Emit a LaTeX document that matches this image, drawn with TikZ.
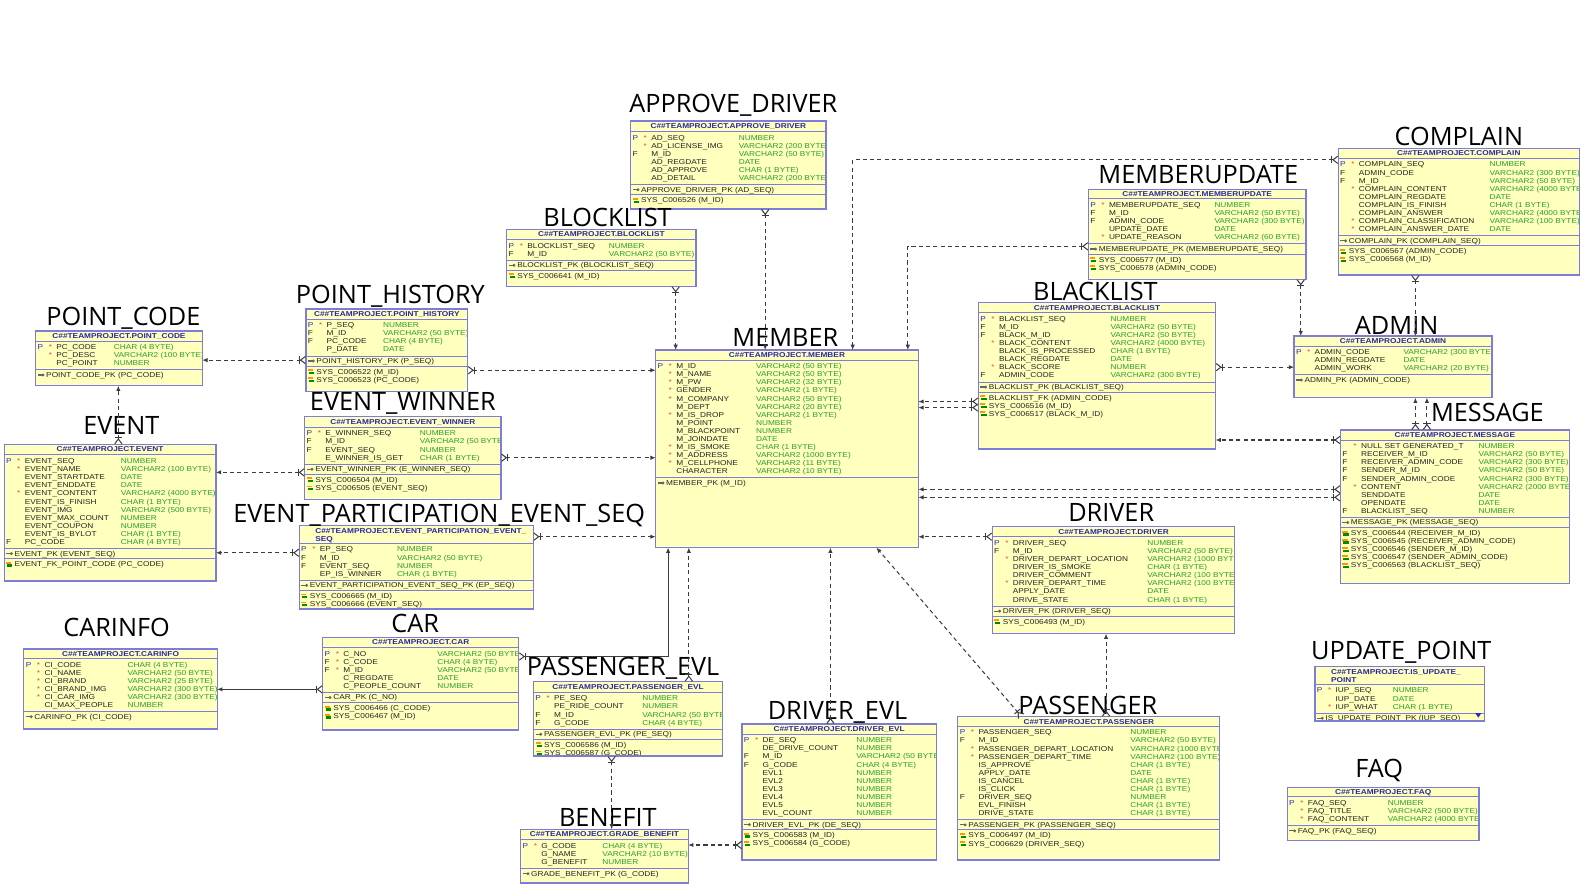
\documentclass[tikz,border=0pt]{standalone}
\usepackage{fontspec}
\usetikzlibrary{arrows.meta}
\newfontfamily\titlefont{Open Sans}
\newfontfamily\tabfont[FakeStretch=1.17]{Liberation Sans}
\definecolor{tblfill}{RGB}{255,255,190}
\definecolor{tblline}{RGB}{125,125,215}
\definecolor{hdrblue}{RGB}{40,40,170}
\definecolor{flagblue}{RGB}{40,40,200}
\definecolor{typegreen}{RGB}{40,160,40}
\definecolor{txtdark}{RGB}{35,35,35}
\definecolor{starred}{RGB}{230,70,60}
\definecolor{relgray}{RGB}{60,60,60}
\newcommand\Pf{\textcolor{flagblue}{P}}
\newcommand\Ff{\textcolor{txtdark}{F}}
\tikzset{
  tbl/.style={draw=tblline, fill=tblfill, line width=0.6pt, inner sep=0pt, outer sep=0pt, rectangle},
  ttl/.style={font=\titlefont\fontsize{12.5}{14}\selectfont, anchor=base, inner sep=0pt},
  cell/.style={font=\tabfont\fontsize{3.5}{4.1}\selectfont, anchor=base west, inner sep=0pt},
  hdr/.style={font=\tabfont\bfseries\fontsize{3.5}{4.1}\selectfont, text=hdrblue, inner sep=0pt},
  sepl/.style={draw=tblline, line width=0.5pt},
  rel/.style={draw=relgray, line width=0.5pt, dash pattern=on 2pt off 1.6pt,
    {Straight Barb[reversed,length=2.4pt,width=3.6pt] Bar[width=3.6pt]}-{Latex[length=2.6pt,width=2.2pt]}},
  relsolid/.style={rel, solid},
}
\newcommand\pkicon[2]{%
  \fill[black!60] ({#1},{#2-0.6}) rectangle ({#1+4.5},{#2+0.6});
  \fill[black!60] ({#1+5.2},{#2}) circle[radius=1.6];}
\newcommand\fkicon[2]{%
  \fill[orange!80!yellow] ({#1},{#2-2.4}) rectangle ({#1+5},{#2-0.6});
  \fill[green!55!black] ({#1+1},{#2+0.2}) rectangle ({#1+6},{#2+2.4});}
\newcommand\tblbox[5]{%
  \node[tbl, anchor=north west, minimum width={(#4-#2)*0.5pt}, minimum height={(#5-#3)*0.5pt}] (#1) at (#2,#3) {};
  \gdef\tN{#1}\gdef\tL{#2}\gdef\tT{#3}\gdef\tR{#4}\gdef\tB{#5}}
% #1 header height, #2 type offset, #3 header, #4 ncols, #5 cols, #6 pk, #7 fks
\newcommand\tblbody[7]{%
  \begin{scope}
    \clip (\tL,\tT) rectangle (\tR,\tB);
    \pgfmathsetmacro\sA{\tT+#1}
    \pgfmathsetmacro\sB{\sA+8*#4+4.5}
    \pgfmathsetmacro\sC{\sB+10}
    \ifdim #1pt>12pt
      \node[hdr, anchor=north west, align=left] at ({\tL+15.5},{\tT+2.2}) {#3};
    \else
      \node[hdr, anchor=base] at ({(\tL+\tR)/2},{\tT+7.3}) {#3};
    \fi
    \draw[sepl] (\tL,\sA) -- (\tR,\sA);
    \foreach \fl/\st/\nm/\ty [count=\i from 0] in {#5} {
      \pgfmathsetmacro\yy{\sA+8.5+8*\i}
      \node[cell] at ({\tL+1.5},\yy) {\fl};
      \node[cell, text=starred] at ({\tL+12.5},\yy) {\st};
      \node[cell, text=txtdark] at ({\tL+20},\yy) {\nm};
      \node[cell, text=typegreen] at ({\tL+#2},\yy) {\ty};
    }
    \draw[sepl] (\tL,\sB) -- (\tR,\sB);
    \pkicon{\tL+2}{\sB+5}
    \node[cell, text=txtdark] at ({\tL+10},{\sB+7.4}) {#6};
    \if\relax\detokenize{#7}\relax\else
      \draw[sepl] (\tL,\sC) -- (\tR,\sC);
      \foreach \fk [count=\j from 0] in {#7} {
        \fkicon{\tL+2}{\sC+5.5+8*\j}
        \node[cell, text=txtdark] at ({\tL+10},{\sC+7.9+8*\j}) {\fk};
      }
    \fi
  \end{scope}
  \draw[draw=tblline, line width=0.6pt] (\tN.north west) rectangle (\tN.south east);}
\begin{document}
\begin{tikzpicture}[x=0.5pt,y=-0.5pt]
\fill[white] (0,0) rectangle (1568,878);
\useasboundingbox (0,0) rectangle (1568,878);

% ---------- tables ----------
\tblbox{approve}{623.5}{119.6}{816.6}{206.6}
\tblbody{10.5}{106.5}{C\#\#TEAMPROJECT.APPROVE\_DRIVER}{6}{\Pf/*/AD\_SEQ/NUMBER, /*/AD\_LICENSE\_IMG/VARCHAR2 (200 BYTE), \Ff//M\_ID/VARCHAR2 (50 BYTE), //AD\_REGDATE/DATE, //AD\_APPROVE/CHAR (1 BYTE), //AD\_DETAIL/VARCHAR2 (200 BYTE)}{APPROVE\_DRIVER\_PK (AD\_SEQ)}{SYS\_C006526 (M\_ID)}

\tblbox{blocklist}{501}{226.7}{688}{283}
\tblbody{10}{100.5}{C\#\#TEAMPROJECT.BLOCKLIST}{2}{\Pf/*/BLOCKLIST\_SEQ/NUMBER, \Ff//M\_ID/VARCHAR2 (50 BYTE)}{BLOCKLIST\_PK (BLOCKLIST\_SEQ)}{SYS\_C006641 (M\_ID)}

\tblbox{pointcode}{35.3}{327.2}{200}{381.3}
\tblbody{10}{76.8}{C\#\#TEAMPROJECT.POINT\_CODE}{3}{\Pf/*/PC\_CODE/CHAR (4 BYTE), /*/PC\_DESC/VARCHAR2 (100 BYTE), //PC\_POINT/NUMBER}{POINT\_CODE\_PK (PC\_CODE)}{}

\tblbox{pointhistory}{302.5}{305.5}{462.4}{387.3}
\tblbody{10}{75.8}{C\#\#TEAMPROJECT.POINT\_HISTORY}{4}{\Pf/*/P\_SEQ/NUMBER, \Ff//M\_ID/VARCHAR2 (50 BYTE), \Ff//PC\_CODE/CHAR (4 BYTE), //P\_DATE/DATE}{POINT\_HISTORY\_PK (P\_SEQ)}{SYS\_C006522 (M\_ID), SYS\_C006523 (PC\_CODE)}

\tblbox{member}{648.2}{346}{907.9}{541.4}
\tblbody{10}{98.9}{C\#\#TEAMPROJECT.MEMBER}{14}{\Pf/*/M\_ID/VARCHAR2 (50 BYTE), /*/M\_NAME/VARCHAR2 (50 BYTE), /*/M\_PW/VARCHAR2 (32 BYTE), /*/GENDER/VARCHAR2 (1 BYTE), /*/M\_COMPANY/VARCHAR2 (50 BYTE), //M\_DEPT/VARCHAR2 (20 BYTE), /*/M\_IS\_DROP/VARCHAR2 (1 BYTE), //M\_POINT/NUMBER, //M\_BLACKPOINT/NUMBER, //M\_JOINDATE/DATE, /*/M\_IS\_SMOKE/CHAR (1 BYTE), /*/M\_ADDRESS/VARCHAR2 (1000 BYTE), /*/M\_CELLPHONE/VARCHAR2 (11 BYTE), //CHARACTER/VARCHAR2 (10 BYTE)}{MEMBER\_PK (M\_ID)}{}

\tblbox{memberupdate}{1076}{187.2}{1291.2}{276}
\tblbody{9.5}{124.3}{C\#\#TEAMPROJECT.MEMBERUPDATE}{5}{\Pf/*/MEMBERUPDATE\_SEQ/NUMBER, \Ff//M\_ID/VARCHAR2 (50 BYTE), \Ff//ADMIN\_CODE/VARCHAR2 (300 BYTE), //UPDATE\_DATE/DATE, /*/UPDATE\_REASON/VARCHAR2 (60 BYTE)}{MEMBERUPDATE\_PK (MEMBERUPDATE\_SEQ)}{SYS\_C006577 (M\_ID), SYS\_C006578 (ADMIN\_CODE)}

\tblbox{complain}{1323.1}{146.6}{1561.4}{271.9}
\tblbody{10}{149.3}{C\#\#TEAMPROJECT.COMPLAIN}{9}{\Pf/*/COMPLAIN\_SEQ/NUMBER, \Ff//ADMIN\_CODE/VARCHAR2 (300 BYTE), \Ff//M\_ID/VARCHAR2 (50 BYTE), /*/COMPLAIN\_CONTENT/VARCHAR2 (4000 BYTE), //COMPLAIN\_REGDATE/DATE, //COMPLAIN\_IS\_FINISH/CHAR (1 BYTE), //COMPLAIN\_ANSWER/VARCHAR2 (4000 BYTE), /*/COMPLAIN\_CLASSIFICATION/VARCHAR2 (100 BYTE), /*/COMPLAIN\_ANSWER\_DATE/DATE}{COMPLAIN\_PK (COMPLAIN\_SEQ)}{SYS\_C006567 (ADMIN\_CODE), SYS\_C006568 (M\_ID)}

\tblbox{blacklist}{967.3}{299.2}{1201.8}{444}
\tblbody{10}{130.2}{C\#\#TEAMPROJECT.BLACKLIST}{8}{\Pf/*/BLACKLIST\_SEQ/NUMBER, \Ff//M\_ID/VARCHAR2 (50 BYTE), \Ff//BLACK\_M\_ID/VARCHAR2 (50 BYTE), /*/BLACK\_CONTENT/VARCHAR2 (4000 BYTE), //BLACK\_IS\_PROCESSED/CHAR (1 BYTE), //BLACK\_REGDATE/DATE, /*/BLACK\_SCORE/NUMBER, \Ff//ADMIN\_CODE/VARCHAR2 (300 BYTE)}{BLACKLIST\_PK (BLACKLIST\_SEQ)}{BLACKLIST\_FK (ADMIN\_CODE), SYS\_C006516 (M\_ID), SYS\_C006517 (BLACK\_M\_ID)}

\tblbox{admin}{1279.4}{332.2}{1475}{393.2}
\tblbody{10}{107.8}{C\#\#TEAMPROJECT.ADMIN}{3}{\Pf/*/ADMIN\_CODE/VARCHAR2 (300 BYTE), //ADMIN\_REGDATE/DATE, //ADMIN\_WORK/VARCHAR2 (20 BYTE)}{ADMIN\_PK (ADMIN\_CODE)}{}

\tblbox{message}{1325.2}{425.1}{1551.5}{576.7}
\tblbody{10}{136.2}{C\#\#TEAMPROJECT.MESSAGE}{9}{/*/NULL SET GENERATED\_T/NUMBER, \Ff//RECEIVER\_M\_ID/VARCHAR2 (50 BYTE), \Ff//RECEIVER\_ADMIN\_CODE/VARCHAR2 (300 BYTE), \Ff//SENDER\_M\_ID/VARCHAR2 (50 BYTE), \Ff//SENDER\_ADMIN\_CODE/VARCHAR2 (300 BYTE), /*/CONTENT/VARCHAR2 (2000 BYTE), //SENDDATE/DATE, //OPENDATE/DATE, \Ff//BLACKLIST\_SEQ/NUMBER}{MESSAGE\_PK (MESSAGE\_SEQ)}{SYS\_C006544 (RECEIVER\_M\_ID), SYS\_C006545 (RECEIVER\_ADMIN\_CODE), SYS\_C006546 (SENDER\_M\_ID), SYS\_C006547 (SENDER\_ADMIN\_CODE), SYS\_C006563 (BLACKLIST\_SEQ)}

\tblbox{event}{4.1}{439.3}{213.5}{574.4}
\tblbody{10.5}{115.1}{C\#\#TEAMPROJECT.EVENT}{11}{\Pf/*/EVENT\_SEQ/NUMBER, /*/EVENT\_NAME/VARCHAR2 (100 BYTE), //EVENT\_STARTDATE/DATE, //EVENT\_ENDDATE/DATE, /*/EVENT\_CONTENT/VARCHAR2 (4000 BYTE), //EVENT\_IS\_FINISH/CHAR (1 BYTE), //EVENT\_IMG/VARCHAR2 (500 BYTE), //EVENT\_MAX\_COUNT/NUMBER, //EVENT\_COUPON/NUMBER, //EVENT\_IS\_BYLOT/CHAR (1 BYTE), \Ff//PC\_CODE/CHAR (4 BYTE)}{EVENT\_PK (EVENT\_SEQ)}{EVENT\_FK\_POINT\_CODE (PC\_CODE)}

\tblbox{eventwinner}{301.3}{411.9}{495.3}{493.6}
\tblbody{10.5}{113.4}{C\#\#TEAMPROJECT.EVENT\_WINNER}{4}{\Pf/*/E\_WINNER\_SEQ/NUMBER, \Ff//M\_ID/VARCHAR2 (50 BYTE), \Ff//EVENT\_SEQ/NUMBER, //E\_WINNER\_IS\_GET/CHAR (1 BYTE)}{EVENT\_WINNER\_PK (E\_WINNER\_SEQ)}{SYS\_C006504 (M\_ID), SYS\_C006505 (EVENT\_SEQ)}

\tblbox{eventpart}{295.9}{519.7}{527.3}{602}
\tblbody{17.5}{96.2}{C\#\#TEAMPROJECT.EVENT\_PARTICIPATION\_EVENT\_\\SEQ}{4}{\Pf/*/EP\_SEQ/NUMBER, \Ff//M\_ID/VARCHAR2 (50 BYTE), \Ff//EVENT\_SEQ/NUMBER, //EP\_IS\_WINNER/CHAR (1 BYTE)}{EVENT\_PARTICIPATION\_EVENT\_SEQ\_PK (EP\_SEQ)}{SYS\_C006665 (M\_ID), SYS\_C006666 (EVENT\_SEQ)}

\tblbox{driver}{981}{520.7}{1220.8}{626.5}
\tblbody{10}{152.9}{C\#\#TEAMPROJECT.DRIVER}{8}{\Pf/*/DRIVER\_SEQ/NUMBER, \Ff//M\_ID/VARCHAR2 (50 BYTE), /*/DRIVER\_DEPART\_LOCATION/VARCHAR2 (1000 BYTE), //DRIVER\_IS\_SMOKE/CHAR (1 BYTE), //DRIVER\_COMMENT/VARCHAR2 (100 BYTE), /*/DRIVER\_DEPART\_TIME/VARCHAR2 (100 BYTE), //APPLY\_DATE/DATE, //DRIVE\_STATE/CHAR (1 BYTE)}{DRIVER\_PK (DRIVER\_SEQ)}{SYS\_C006493 (M\_ID)}

\tblbox{carinfo}{23.6}{641.6}{214.7}{720.7}
\tblbody{9.5}{102.1}{C\#\#TEAMPROJECT.CARINFO}{6}{\Pf/*/CI\_CODE/CHAR (4 BYTE), /*/CI\_NAME/VARCHAR2 (50 BYTE), /*/CI\_BRAND/VARCHAR2 (25 BYTE), /*/CI\_BRAND\_IMG/VARCHAR2 (300 BYTE), /*/CI\_CAR\_IMG/VARCHAR2 (300 BYTE), //CI\_MAX\_PEOPLE/NUMBER}{CARINFO\_PK (CI\_CODE)}{}

\tblbox{car}{319.1}{630.1}{512.9}{721.7}
\tblbody{10}{113}{C\#\#TEAMPROJECT.CAR}{5}{\Pf/*/C\_NO/VARCHAR2 (50 BYTE), \Ff/*/C\_CODE/CHAR (4 BYTE), \Ff/*/M\_ID/VARCHAR2 (50 BYTE), //C\_REGDATE/DATE, //C\_PEOPLE\_COUNT/NUMBER}{CAR\_PK (C\_NO)}{SYS\_C006466 (C\_CODE), SYS\_C006467 (M\_ID)}

\tblbox{passengerevl}{527.5}{673.9}{714.5}{747.4}
\tblbody{10.5}{107.1}{C\#\#TEAMPROJECT.PASSENGER\_EVL}{4}{\Pf/*/PE\_SEQ/NUMBER, //PE\_RIDE\_COUNT/NUMBER, \Ff//M\_ID/VARCHAR2 (50 BYTE), \Ff//G\_CODE/CHAR (4 BYTE)}{PASSENGER\_EVL\_PK (PE\_SEQ)}{SYS\_C006586 (M\_ID), SYS\_C006587 (G\_CODE)}

\tblbox{driverevl}{733.6}{715.8}{925.6}{850.2}
\tblbody{10}{112.6}{C\#\#TEAMPROJECT.DRIVER\_EVL}{10}{\Pf/*/DE\_SEQ/NUMBER, //DE\_DRIVE\_COUNT/NUMBER, \Ff//M\_ID/VARCHAR2 (50 BYTE), \Ff//G\_CODE/CHAR (4 BYTE), //EVL1/NUMBER, //EVL2/NUMBER, //EVL3/NUMBER, //EVL4/NUMBER, //EVL5/NUMBER, //EVL\_COUNT/NUMBER}{DRIVER\_EVL\_PK (DE\_SEQ)}{SYS\_C006583 (M\_ID), SYS\_C006584 (G\_CODE)}

\tblbox{passenger}{947}{708.5}{1206}{850.2}
\tblbody{9.5}{170.2}{C\#\#TEAMPROJECT.PASSENGER}{11}{\Pf/*/PASSENGER\_SEQ/NUMBER, \Ff//M\_ID/VARCHAR2 (50 BYTE), /*/PASSENGER\_DEPART\_LOCATION/VARCHAR2 (1000 BYTE), /*/PASSENGER\_DEPART\_TIME/VARCHAR2 (100 BYTE), //IS\_APPROVE/CHAR (1 BYTE), //APPLY\_DATE/DATE, //IS\_CANCEL/CHAR (1 BYTE), //IS\_CLICK/CHAR (1 BYTE), \Ff//DRIVER\_SEQ/NUMBER, //EVL\_FINISH/CHAR (1 BYTE), //DRIVE\_STATE/CHAR (1 BYTE)}{PASSENGER\_PK (PASSENGER\_SEQ)}{SYS\_C006497 (M\_ID), SYS\_C006629 (DRIVER\_SEQ)}

\tblbox{benefit}{514.8}{819.9}{680.4}{873}
\tblbody{10.5}{80.4}{C\#\#TEAMPROJECT.GRADE\_BENEFIT}{3}{\Pf/*/G\_CODE/CHAR (4 BYTE), //G\_NAME/VARCHAR2 (10 BYTE), //G\_BENEFIT/NUMBER}{GRADE\_BENEFIT\_PK (G\_CODE)}{}

\tblbox{updatepoint}{1300.1}{659.1}{1467.5}{712.8}
\tblbody{17.5}{76.5}{C\#\#TEAMPROJECT.IS\_UPDATE\_\\POINT}{3}{\Pf/*/IUP\_SEQ/NUMBER, //IUP\_DATE/DATE, /*/IUP\_WHAT/CHAR (1 BYTE)}{IS\_UPDATE\_POINT\_PK (IUP\_SEQ)}{}
\fill[flagblue] (1458.5,705) -- (1464.5,705) -- (1461.5,709.5) -- cycle;

\tblbox{faq}{1272.7}{778.4}{1462.2}{831}
\tblbody{9.5}{98.9}{C\#\#TEAMPROJECT.FAQ}{3}{\Pf/*/FAQ\_SEQ/NUMBER, /*/FAQ\_TITLE/VARCHAR2 (500 BYTE), /*/FAQ\_CONTENT/VARCHAR2 (4000 BYTE)}{FAQ\_PK (FAQ\_SEQ)}{}

% ---------- titles ----------
\node[ttl] (t-approve) at (725,111) {APPROVE\_DRIVER};
\node[ttl] (t-blocklist) at (600.6,223.5) {BLOCKLIST};
\node[ttl] (t-pointcode) at (122,321.5) {POINT\_CODE};
\node[ttl] (t-pointhistory) at (386,300) {POINT\_HISTORY};
\node[ttl] (t-member) at (776.4,342.5) {MEMBER};
\node[ttl] (t-memberupdate) at (1184.7,181.2) {MEMBERUPDATE};
\node[ttl] (t-complain) at (1442.3,143.4) {COMPLAIN};
\node[ttl] (t-blacklist) at (1083,297) {BLACKLIST};
\node[ttl] (t-admin) at (1380.8,330.5) {ADMIN};
\node[ttl] (t-message) at (1470.5,417) {MESSAGE};
\node[ttl] (t-event) at (120,429.4) {EVENT};
\node[ttl] (t-eventwinner) at (398.3,406.3) {EVENT\_WINNER};
\node[ttl] (t-eventpart) at (434.2,516.7) {EVENT\_PARTICIPATION\_EVENT\_SEQ};
\node[ttl] (t-driver) at (1098.6,515.7) {DRIVER};
\node[ttl] (t-carinfo) at (115.3,628.8) {CARINFO};
\node[ttl] (t-car) at (410.4,625.5) {CAR};
\node[ttl] (t-passengerevl) at (616,668.3) {PASSENGER\_EVL};
\node[ttl] (t-driverevl) at (828,711.2) {DRIVER\_EVL};
\node[ttl] (t-passenger) at (1075.4,706.5) {PASSENGER};
\node[ttl] (t-benefit) at (601,817.3) {BENEFIT};
\node[ttl] (t-updatepoint) at (1385.4,652.5) {UPDATE\_POINT};
\node[ttl] (t-faq) at (1363.5,768.5) {FAQ};

% ---------- relationships ----------
\draw[rel] (blocklist.south -| 668,0) -- (member.north -| 668,0);
\draw[rel] (approve.south -| 756.5,0) -- (member.north -| 756.5,0);
\draw[rel] (complain.west |- 0,158) -| (member.north -| 843,0);
\draw[rel] (memberupdate.west |- 0,243.5) -| (member.north -| 897.5,0);
\draw[rel] (pointhistory.east |- 0,366) -- (member.west |- 0,366);
\draw[rel] (pointhistory.west |- 0,356) -- (pointcode.east |- 0,356);
\draw[rel] (event.north -| 117,0) -- (pointcode.south -| 117,0);
\draw[rel] (eventwinner.west |- 0,467) -- (event.east |- 0,467);
\draw[rel] (eventwinner.east |- 0,452.5) -- (member.west |- 0,452.5);
\draw[rel] (eventpart.west |- 0,546.5) -- (event.east |- 0,546.5);
\draw[rel] (eventpart.east |- 0,530.6) -- (member.west |- 0,530.6);
\draw[relsolid] (car.east |- 0,649) -| (member.south -| 660.5,0);
\draw[relsolid] (car.west |- 0,681.5) -- (carinfo.east |- 0,681.5);
\draw[rel] (passengerevl.north -| 681,0) -- (member.south -| 681,0);
\draw[rel] (passengerevl.south -| 604.7,0) -- (benefit.north -| 604.7,0);
\draw[rel] (driverevl.west |- 0,835.4) -- (benefit.east |- 0,835.4);
\draw[rel] (driverevl.north -| 821,0) -- (member.south -| 821,0);
\draw[rel] (passenger.north -| 1010,0) -- (member.south -| 866.5,0);
\draw[rel] (passenger.north -| 1093.5,0) -- (driver.south -| 1093.5,0);
\draw[rel] (driver.west |- 0,530.6) -- (member.east |- 0,530.6);
\draw[rel] (blacklist.west |- 0,397) -- (member.east |- 0,397);
\draw[rel] (blacklist.west |- 0,403) -- (member.east |- 0,403);
\draw[rel] (blacklist.east |- 0,363) -- (admin.west |- 0,363);
\draw[rel] (memberupdate.south -| 1286,0) -- (admin.north -| 1286,0);
\draw[rel] (complain.south -| 1399.3,0) -- (admin.north -| 1399.3,0);
\draw[rel] (message.north -| 1399.3,0) -- (admin.south -| 1399.3,0);
\draw[rel] (message.north -| 1410.7,0) -- (admin.south -| 1410.7,0);
\draw[rel] (message.west |- 0,435) -- (blacklist.east |- 0,435);
\draw[rel] (message.west |- 0,483.8) -- (member.east |- 0,483.8);
\draw[rel] (message.west |- 0,491.7) -- (member.east |- 0,491.7);
\end{tikzpicture}
\end{document}
